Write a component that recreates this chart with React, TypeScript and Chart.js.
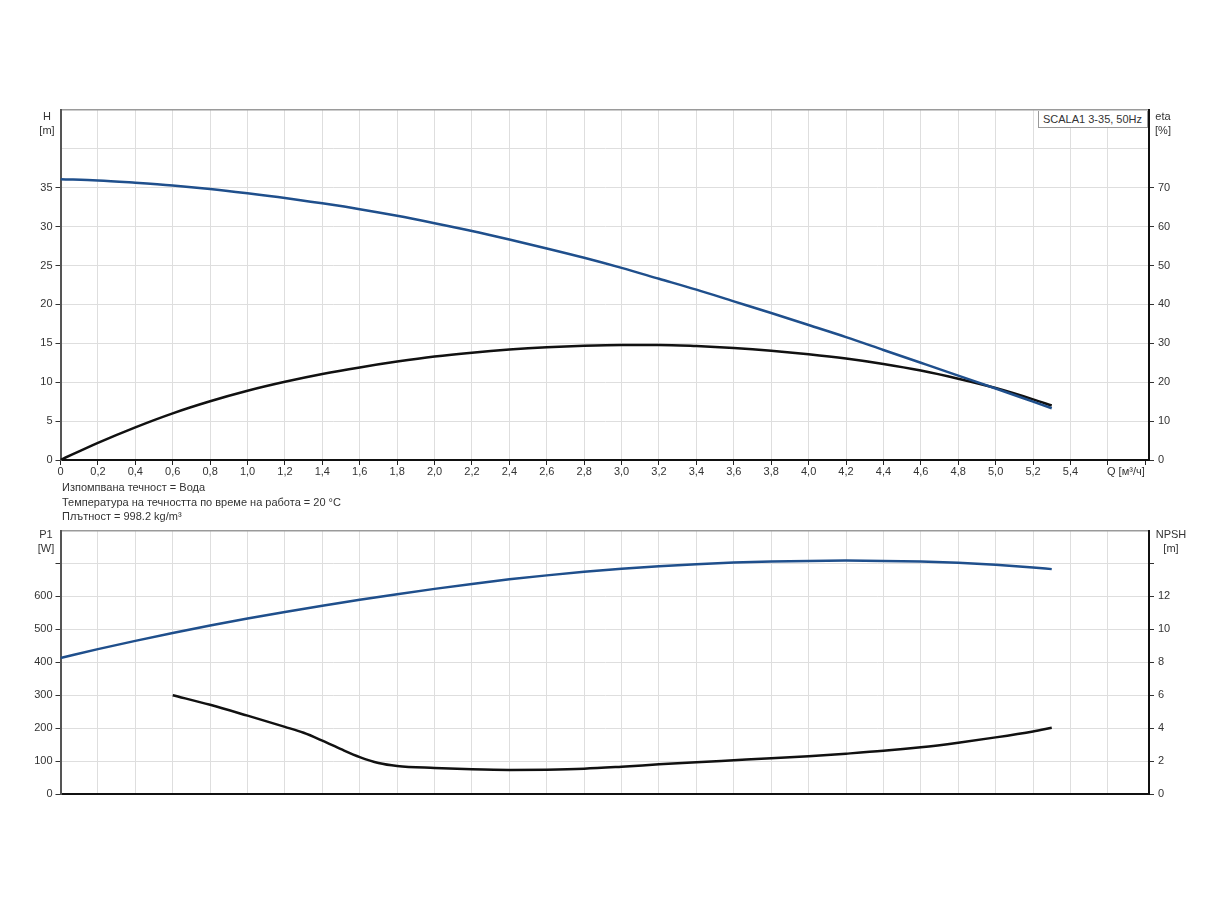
import React, { useEffect, useRef } from "react";
import { Chart, registerables } from "chart.js";
Chart.register(...registerables);

// ---------- data ----------
const flowQ = [0, 0.2, 0.4, 0.6, 0.8, 1.0, 1.2, 1.4, 1.6, 1.8, 2.0, 2.2, 2.4, 2.6, 2.8, 3.0, 3.2, 3.4, 3.6, 3.8, 4.0, 4.2, 4.4, 4.6, 4.8, 5.0, 5.2, 5.3];
const headH = [36.1, 35.95, 35.65, 35.3, 34.85, 34.3, 33.7, 33.0, 32.25, 31.4, 30.45, 29.45, 28.35, 27.2, 26.0, 24.7, 23.3, 21.9, 20.4, 18.9, 17.35, 15.8, 14.15, 12.5, 10.85, 9.2, 7.5, 6.65];
const effEta = [0, 4.4, 8.4, 12.0, 15.1, 17.8, 20.1, 22.1, 23.8, 25.3, 26.6, 27.6, 28.4, 29.0, 29.4, 29.6, 29.6, 29.3, 28.8, 28.1, 27.2, 26.1, 24.7, 23.0, 20.9, 18.5, 15.6, 14.0];
const powerP1 = [413, 440, 465, 489, 512, 533, 553, 572, 590, 607, 623, 638, 652, 664, 675, 684, 692, 698, 703, 706, 708, 709, 708, 706, 702, 696, 688, 683];
const npshQ = [0.6, 0.8, 1.0, 1.2, 1.3, 1.4, 1.5, 1.6, 1.7, 1.8, 2.0, 2.2, 2.4, 2.6, 2.8, 3.0, 3.2, 3.4, 3.6, 3.8, 4.0, 4.2, 4.4, 4.6, 4.8, 5.0, 5.2, 5.3];
const npshM = [6.0, 5.42, 4.76, 4.08, 3.72, 3.24, 2.72, 2.24, 1.88, 1.7, 1.58, 1.5, 1.46, 1.48, 1.54, 1.66, 1.8, 1.93, 2.05, 2.17, 2.3, 2.45, 2.62, 2.84, 3.12, 3.44, 3.8, 4.02];

const Q_MAX = 5.82;
const Q_STEP = 0.2;
const Q_LAST_LABEL = 5.4;
const H_MAX = 45, H_STEP = 5, H_LAST_LABEL = 35;
const ETA_MAX = 90, ETA_STEP = 10, ETA_LAST_LABEL = 70;
const P1_MAX = 800, P1_STEP = 100, P1_LAST_LABEL = 600;
const NPSH_MAX = 16, NPSH_STEP = 2, NPSH_LAST_LABEL = 12;

const modelLabel = "SCALA1 3-35, 50Hz";
const qAxisLabel = "Q [м³/ч]";
const notes = [
  "Изпомпвана течност = Вода",
  "Температура на течността по време на работа = 20 °C",
  "Плътност = 998.2 kg/m³",
];

const FONT = "'Liberation Sans', Arial, sans-serif";
const BLUE = "#1f4f8c";
const BLACK = "#111111";
const GRID = "#dedede";
const TXT = "#333333";

const pts = (xs: number[], ys: number[]) => xs.map((x, i) => ({ x, y: ys[i] }));
const fmtQ = (v: number) => {
  const r = Math.round(v * 10) / 10;
  if (r > Q_LAST_LABEL + 0.01) return "";
  return r === 0 ? "0" : r.toFixed(1).replace(".", ",");
};

const tickFont = { family: FONT, size: 11 };

function yScale(pos: "left" | "right", max: number, step: number, lastLabel: number, width: number, showUnlabeledTick: boolean, drawGrid: boolean, borderColor: string) {
  return {
    type: "linear" as const,
    position: pos,
    min: 0,
    max,
    afterFit: (s: any) => { s.width = width; },
    border: { color: borderColor, width: 2 },
    grid: {
      drawOnChartArea: drawGrid,
      color: (ctx: any) => (ctx.tick && ctx.tick.value >= max - 1e-6 ? "#9a9a9a" : GRID),
      lineWidth: (ctx: any) => (ctx.tick && ctx.tick.value >= max - 1e-6 ? 1.5 : 1),
      tickLength: 5,
      tickColor: (ctx: any) => {
        const v = ctx.tick ? ctx.tick.value : 0;
        if (v >= max - 1e-6) return "rgba(0,0,0,0)";
        if (v > lastLabel + 1e-6 && !showUnlabeledTick) return "rgba(0,0,0,0)";
        return "#333";
      },
    },
    ticks: {
      stepSize: step,
      autoSkip: false,
      color: TXT,
      font: tickFont,
      padding: pos === "left" ? 3 : 4,
      callback: (v: any) => (v > lastLabel + 1e-6 ? "" : String(v)),
    },
  };
}

function xScale(height: number, showLabels: boolean) {
  return {
    type: "linear" as const,
    min: 0,
    max: Q_MAX,
    afterFit: (s: any) => { s.height = height; },
    border: { color: BLACK, width: 2 },
    grid: {
      color: (ctx: any) => (ctx.tick && ctx.tick.value > 5.7 ? "rgba(0,0,0,0)" : GRID),
      drawTicks: showLabels,
      tickLength: 5,
      tickColor: "#222",
    },
    ticks: {
      display: showLabels,
      stepSize: Q_STEP,
      includeBounds: false,
      autoSkip: false,
      maxRotation: 0,
      color: TXT,
      font: tickFont,
      padding: 0,
      callback: (v: any) => fmtQ(Number(v)),
    },
  };
}

const lineDs = (label: string, data: any[], color: string, axis: string) => ({
  label,
  data,
  borderColor: color,
  backgroundColor: color,
  borderWidth: 2.5,
  pointRadius: 0,
  cubicInterpolationMode: "monotone" as const,
  yAxisID: axis,
});

const commonOpts = (padTop: number) => ({
  responsive: false,
  animation: false as const,
  layout: { padding: { top: padTop, left: 0, right: 0, bottom: 0 } },
  plugins: { legend: { display: false }, tooltip: { enabled: false } },
  events: [] as any[],
});

const txt: React.CSSProperties = {
  position: "absolute",
  fontFamily: FONT,
  fontSize: 11,
  color: TXT,
  lineHeight: "13px",
  whiteSpace: "nowrap",
};

function Label({ cx, cy, lines }: { cx: number; cy: number; lines: string[] }) {
  return (
    <div style={{ ...txt, left: cx - 30, width: 60, top: cy - 7, textAlign: "center", lineHeight: "14px" }}>
      {lines.map((l, i) => (
        <div key={i}>{l}</div>
      ))}
    </div>
  );
}

export default function App() {
  const topRef = useRef<HTMLCanvasElement>(null);
  const botRef = useRef<HTMLCanvasElement>(null);

  useEffect(() => {
    const c1 = new Chart(topRef.current as HTMLCanvasElement, {
      type: "line",
      data: {
        datasets: [
          lineDs("H", pts(flowQ, headH), BLUE, "y"),
          lineDs("eta", pts(flowQ, effEta), BLACK, "y2"),
        ],
      },
      options: {
        ...commonOpts(20),
        scales: {
          x: xScale(30, true),
          y: yScale("left", H_MAX, H_STEP, H_LAST_LABEL, 60.5, false, true, "#555"),
          y2: yScale("right", ETA_MAX, ETA_STEP, ETA_LAST_LABEL, 75, false, false, BLACK),
        },
      } as any,
    });
    const c2 = new Chart(botRef.current as HTMLCanvasElement, {
      type: "line",
      data: {
        datasets: [
          lineDs("P1", pts(flowQ, powerP1), BLUE, "y"),
          lineDs("NPSH", pts(npshQ, npshM), BLACK, "y2"),
        ],
      },
      options: {
        ...commonOpts(9),
        scales: {
          x: xScale(16, false),
          y: yScale("left", P1_MAX, P1_STEP, P1_LAST_LABEL, 60.5, true, true, "#555"),
          y2: yScale("right", NPSH_MAX, NPSH_STEP, NPSH_LAST_LABEL, 75, true, false, BLACK),
        },
      } as any,
    });
    return () => {
      c1.destroy();
      c2.destroy();
    };
  }, []);

  return (
    <div style={{ position: "absolute", left: 0, top: 0, width: 1224, height: 900, background: "#fff", overflow: "hidden" }}>
      <canvas ref={topRef} width={1224} height={400} style={{ position: "absolute", left: 0, top: 90, width: 1224, height: 400 }} />
      <canvas ref={botRef} width={1224} height={290} style={{ position: "absolute", left: 0, top: 520, width: 1224, height: 290 }} />

      <Label cx={47} cy={116} lines={["H", "[m]"]} />
      <Label cx={1163} cy={116} lines={["eta", "[%]"]} />
      <Label cx={46} cy={534} lines={["P1", "[W]"]} />
      <Label cx={1171} cy={534} lines={["NPSH", "[m]"]} />

      <div style={{ ...txt, left: 1107, top: 465 }}>{qAxisLabel}</div>

      <div style={{ ...txt, left: 62, top: 480, lineHeight: "14.5px" }}>
        {notes.map((n, i) => (
          <div key={i}>{n}</div>
        ))}
      </div>

      <div
        style={{
          ...txt,
          left: 1038,
          top: 111,
          width: 110,
          height: 17,
          boxSizing: "border-box",
          border: "1px solid #9a9a9a",
          borderTop: "none",
          background: "#fff",
          paddingLeft: 4,
          lineHeight: "17px",
        }}
      >
        {modelLabel}
      </div>
    </div>
  );
}
